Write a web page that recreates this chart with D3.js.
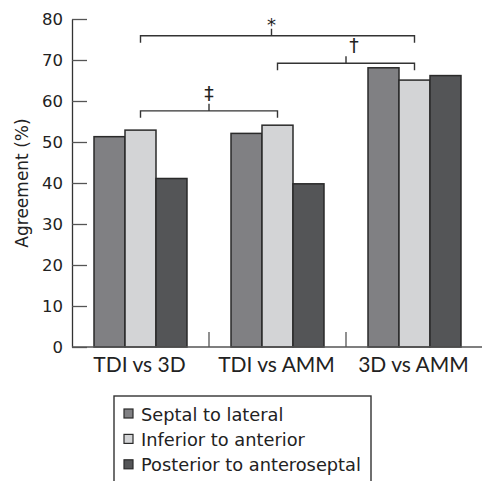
<!DOCTYPE html>
<html>
<head>
<meta charset="utf-8">
<script src="https://cdn.jsdelivr.net/npm/d3@7"></script>
<style>
  body { margin: 0; background: #fff; }
  svg { display: block; }
</style>
</head>
<body>
<div id="chart"></div>
<script>
var categories = ["TDI vs 3D", "TDI vs AMM", "3D vs AMM"];
var series = ["Septal to lateral", "Inferior to anterior", "Posterior to anteroseptal"];
var septal = [51.3, 52.1, 68.1];
var inferior = [52.9, 54.1, 65.1];
var posterior = [41.1, 39.8, 66.2];
var yTicks = [0, 10, 20, 30, 40, 50, 60, 70, 80];
var colors = ["#808083", "#d3d4d6", "#545557"];

// significance brackets: from category, to category, bracket level (%), symbol
var brackets = [
  { from: "TDI vs 3D", to: "3D vs AMM", level: 75.9, symbol: "*" },
  { from: "TDI vs AMM", to: "3D vs AMM", level: 69.2, symbol: "\u2020" },
  { from: "TDI vs 3D", to: "TDI vs AMM", level: 57.6, symbol: "\u2021" }
];

var svgWidth = 483, svgHeight = 481;
var margin = { top: 19, right: 0, bottom: 134, left: 72 };
var width = svgWidth - margin.left - margin.right;
var height = svgHeight - margin.top - margin.bottom;

var svg = d3.select("#chart")
  .append("svg")
  .attr("width", svgWidth)
  .attr("height", svgHeight);

var chart = svg.append("g")
  .attr("transform", "translate(" + margin.left + "," + margin.top + ")");

var data = categories.map(function(c, i) {
  return { cat: c, values: [septal[i], inferior[i], posterior[i]] };
});

var x0 = d3.scaleBand().domain(categories).range([0, width]).padding(0);
var x1 = d3.scaleBand().domain(series).range([0, x0.bandwidth()])
  .paddingInner(0).paddingOuter(0.71);
var y = d3.scaleLinear().domain([0, 80]).range([height, 0]);

// y axis, ticks pointing inward
var yAxis = chart.append("g")
  .call(d3.axisLeft(y).tickValues(yTicks).tickSizeInner(-15).tickSizeOuter(0).tickPadding(9));
yAxis.select(".domain").attr("stroke", "#333").attr("stroke-width", 1.3);
yAxis.selectAll(".tick line").attr("stroke", "#555").attr("stroke-width", 1.3);
yAxis.selectAll(".tick text")
  .attr("fill", "#222")
  .style("font-family", "DejaVu Sans")
  .style("font-size", "16.5px");

// bars
var groups = chart.append("g").selectAll("g")
  .data(data)
  .enter()
  .append("g")
  .attr("transform", function(d) { return "translate(" + x0(d.cat) + ",0)"; });

groups.selectAll("rect")
  .data(function(d) { return d.values.map(function(v, i) { return { s: series[i], v: v, i: i }; }); })
  .enter()
  .append("rect")
  .attr("x", function(d) { return x1(d.s); })
  .attr("y", function(d) { return y(d.v); })
  .attr("width", x1.bandwidth())
  .attr("height", function(d) { return height - y(d.v); })
  .attr("fill", function(d) { return colors[d.i]; })
  .attr("stroke", "#2a2a2a")
  .attr("stroke-width", 1.5);

// x axis: baseline with separator ticks between categories
var xAxis = chart.append("g")
  .attr("transform", "translate(0," + height + ")");
xAxis.append("line")
  .attr("x1", 0).attr("x2", width - 1)
  .attr("stroke", "#555").attr("stroke-width", 1.3);
xAxis.selectAll(".sep")
  .data(categories.slice(1))
  .enter()
  .append("line")
  .attr("x1", function(d) { return x0(d); })
  .attr("x2", function(d) { return x0(d); })
  .attr("y1", 0).attr("y2", -15)
  .attr("stroke", "#555").attr("stroke-width", 1.3);
xAxis.selectAll(".cat")
  .data(categories)
  .enter()
  .append("text")
  .attr("x", function(d) { return x0(d) + x0.bandwidth() / 2 - 1; })
  .attr("y", 25)
  .attr("text-anchor", "middle")
  .attr("fill", "#222")
  .style("font-family", "Lato")
  .style("font-size", "21px")
  .text(function(d) { return d; });

// y label
svg.append("text")
  .attr("transform", "translate(28," + (margin.top + 164) + ") rotate(-90)")
  .attr("text-anchor", "middle")
  .attr("fill", "#222")
  .style("font-family", "DejaVu Sans")
  .style("font-size", "17px")
  .text("Agreement (%)");

// brackets
var mid = function(c) { return x0(c) + x1(series[1]) + x1.bandwidth() / 2; };
var symbolDx = { "*": 0, "\u2020": 8, "\u2021": 0 };
var tickDx = { "*": -6, "\u2020": 0, "\u2021": 0 };
var b = chart.append("g").selectAll("g")
  .data(brackets)
  .enter()
  .append("g");

b.append("path")
  .attr("d", function(d) {
    var xa = mid(d.from), xb = mid(d.to), yy = y(d.level), leg = 7;
    var xm = (xa + xb) / 2 + tickDx[d.symbol];
    return "M" + xa + "," + (yy + leg) + "V" + yy + "H" + xb + "V" + (yy + leg) +
      "M" + xm + "," + yy + "V" + (yy - leg);
  })
  .attr("fill", "none")
  .attr("stroke", "#333")
  .attr("stroke-width", 1.4);

b.append("text")
  .attr("x", function(d) { return (mid(d.from) + mid(d.to)) / 2 + tickDx[d.symbol] + symbolDx[d.symbol]; })
  .attr("y", function(d) { return y(d.level) - (d.symbol === "*" ? 5 : 11); })
  .attr("text-anchor", "middle")
  .attr("fill", "#222")
  .style("font-family", "DejaVu Sans")
  .style("font-size", function(d) { return d.symbol === "*" ? "18px" : "19px"; })
  .text(function(d) { return d.symbol; });

// legend
var legend = svg.append("g").attr("transform", "translate(114,396)");
legend.append("rect")
  .attr("x", 0).attr("y", 0)
  .attr("width", 257).attr("height", 100)
  .attr("fill", "#fff")
  .attr("stroke", "#333")
  .attr("stroke-width", 1.4);

var items = legend.selectAll(".item")
  .data(series)
  .enter()
  .append("g")
  .attr("transform", function(d, i) { return "translate(0," + (18 + i * 25.4) + ")"; });

items.append("rect")
  .attr("x", 10).attr("y", -5)
  .attr("width", 9).attr("height", 9)
  .attr("fill", function(d, i) { return colors[i]; })
  .attr("stroke", "#2a2a2a")
  .attr("stroke-width", 1.2);

items.append("text")
  .attr("x", 27)
  .attr("y", 6.5)
  .attr("fill", "#222")
  .style("font-family", "DejaVu Sans")
  .style("font-size", "17.8px")
  .text(function(d) { return d; });
</script>
</body>
</html>
